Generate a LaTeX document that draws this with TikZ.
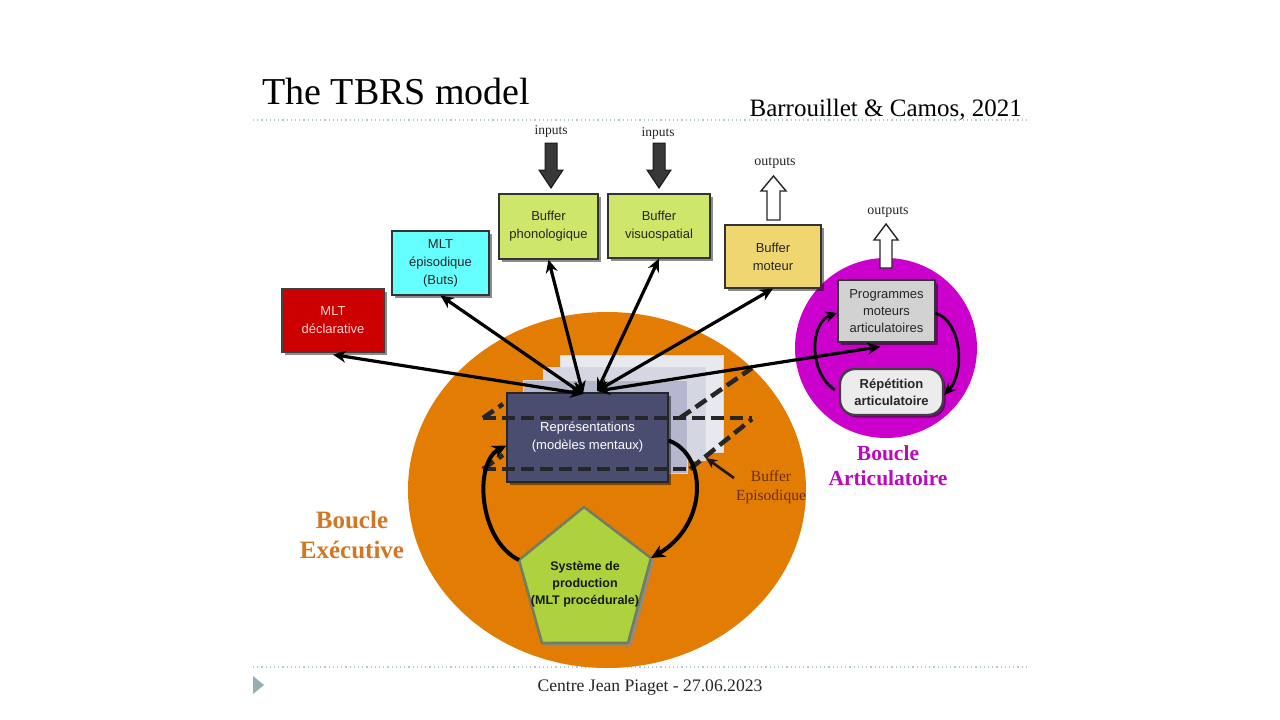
\documentclass[tikz,border=0pt]{standalone}
\usepackage{fontspec}
\setmainfont{Liberation Serif}
\setsansfont{Liberation Sans}
\usetikzlibrary{arrows.meta,calc,shadows}
\definecolor{orng}{RGB}{226,124,2}
\definecolor{magn}{RGB}{204,0,204}
\definecolor{redbox}{RGB}{204,0,0}
\definecolor{cyanbox}{RGB}{102,255,255}
\definecolor{limebox}{RGB}{206,230,105}
\definecolor{yelbox}{RGB}{240,214,112}
\definecolor{graybox}{RGB}{210,210,210}
\definecolor{repbox}{RGB}{236,236,236}
\definecolor{slate}{RGB}{74,77,112}
\definecolor{cardA}{RGB}{232,233,238}
\definecolor{cardB}{RGB}{212,214,226}
\definecolor{cardC}{RGB}{180,183,205}
\definecolor{pent}{RGB}{174,210,62}
\definecolor{pentline}{RGB}{115,125,95}
\definecolor{dotc}{RGB}{170,205,205}
\definecolor{exectxt}{RGB}{208,120,38}
\definecolor{arttxt}{RGB}{186,10,186}
\definecolor{epitxt}{RGB}{105,48,22}
\definecolor{marker}{RGB}{150,172,182}
\tikzset{
  bx/.style={rectangle, draw=black!80, line width=1.2pt, inner sep=0pt, align=center,
    font=\sffamily\fontsize{13}{18}\selectfont, text=black!85,
    drop shadow={shadow xshift=2.5pt, shadow yshift=-2.5pt, fill=black, opacity=0.45}},
  link/.style={line width=3.2pt, black, {Stealth[length=13pt,width=12pt]}-{Stealth[length=13pt,width=12pt]}},
  loopex/.style={line width=4pt, black, -{Stealth[length=14pt,width=13pt]}},
  loopart/.style={line width=2.8pt, black, -{Stealth[length=12pt,width=11pt]}},
  dsh/.style={line width=4.5pt, black!85, dash pattern=on 13pt off 6pt},
  inarrow/.style={fill=black!78, draw=black!90, line width=1pt},
  outarrow/.style={fill=white, draw=black!85, line width=1.4pt},
  smalllbl/.style={font=\fontsize{13.5}{15}\selectfont, text=black!85},
  card/.style={draw=black!15, line width=0.6pt}
}
\begin{document}
\begin{tikzpicture}[x=1pt,y=-1pt]
\useasboundingbox[fill=white] (0,0) rectangle (1280,720);

% header / footer
\node[anchor=base west, font=\fontsize{38}{40}\selectfont, inner sep=0pt] (title) at (262,104) {The TBRS model};
\node[anchor=base east, font=\fontsize{25}{27}\selectfont, inner sep=0pt] (ref) at (1022,116) {Barrouillet \& Camos, 2021};
\draw[dotc, line width=1.2pt, dash pattern=on 1.2pt off 3pt] (253,120) -- (1030,120);
\draw[dotc, line width=1.2pt, dash pattern=on 1.2pt off 3pt] (253,667) -- (1030,667);
\node[anchor=base, font=\fontsize{17.6}{19}\selectfont, inner sep=0pt, text=black!85] (foot) at (650,691) {Centre Jean Piaget - 27.06.2023};
\fill[marker] (253,676) -- (264,685) -- (253,694) -- cycle;

% circles
\fill[orng] (607,490) ellipse [x radius=199, y radius=178];
\fill[magn] (886,348) ellipse [x radius=91, y radius=90];

% stacked cards
\draw[card, fill=cardA] (560,355) rectangle (723,452);
\draw[card, fill=cardB] (543,367) rectangle (705,460);
\draw[card, fill=cardC] (523,380) rectangle (687,473);
\node[bx, fill=slate, text=white, draw=black!85, minimum width=161pt, minimum height=89pt] (repr) at (587.5,437.5) {Représentations\\(modèles mentaux)};

% Buffer episodique dashed box
\draw[dsh] (483,418) -- (752,418);
\draw[dsh] (483,469) -- (690,469);
\draw[dsh] (680,418) -- (752,368);
\draw[dsh] (690,469) -- (752,419);
\draw[dsh] (483,418) -- (503,404);
\draw[dsh] (483,469) -- (503,455);
\node[font=\fontsize{15.5}{19}\selectfont, text=epitxt, align=center, inner sep=0pt] (epil) at (771,487) {Buffer\\Episodique};
\coordinate (epitip) at (706,458);
\draw[line width=2.6pt, black!90, -{Stealth[length=11pt,width=10pt]}] (734,478) -- (epitip);

% boxes
\node[bx, fill=redbox, text={rgb,255:red,255;green,212;blue,212}, draw=black!75, minimum width=102pt, minimum height=63pt] (decl) at (333,320.5) {MLT\\déclarative};
\node[bx, fill=cyanbox, minimum width=97pt, minimum height=64pt] (epis) at (440.5,263) {MLT\\épisodique\\(Buts)};
\node[bx, fill=limebox, minimum width=99pt, minimum height=65pt] (phono) at (548.5,226.5) {Buffer\\phonologique};
\node[bx, fill=limebox, minimum width=102pt, minimum height=64pt] (visuo) at (659,226) {Buffer\\visuospatial};
\node[bx, fill=yelbox, minimum width=96pt, minimum height=63pt] (moteur) at (773,256.5) {Buffer\\moteur};
\node[bx, fill=graybox, minimum width=97pt, minimum height=62pt, font=\sffamily\fontsize{13}{17}\selectfont] (prog) at (886.5,311) {Programmes\\moteurs\\articulatoires};
\node[bx, fill=repbox, rounded corners=15pt, line width=2.4pt, draw=black!75, minimum width=103pt, minimum height=46pt, font=\sffamily\bfseries\fontsize{13}{17}\selectfont] (rep) at (891.5,392) {Répétition\\articulatoire};

% pentagon
\coordinate (pT) at (584,507);
\coordinate (pR) at (651,558);
\coordinate (pBR) at (628,643);
\coordinate (pBL) at (542,643);
\coordinate (pL) at (519,560);
\fill[black!45] ($(pT)+(3,3)$) -- ($(pR)+(3,3)$) -- ($(pBR)+(3,3)$) -- ($(pBL)+(3,3)$) -- ($(pL)+(3,3)$) -- cycle;
\draw[fill=pent, draw=pentline, line width=2.6pt, line join=round] (pT) -- (pR) -- (pBR) -- (pBL) -- (pL) -- cycle;
\node[font=\sffamily\bfseries\fontsize{12.5}{17}\selectfont, align=center, text=black!90, inner sep=0pt] (sys) at (585,584) {Système de\\production\\(MLT procédurale)};

% loops
\draw[loopex] (pL) .. controls (478,540) and (474,462) .. ([yshift=-8pt]repr.west);
\draw[loopex] ([yshift=-3pt]repr.east) .. controls (708,455) and (708,525) .. (pR);
\draw[loopart] ([xshift=-4pt, yshift=2pt]rep.west) .. controls (808,372) and (810,322) .. ([yshift=-2pt]prog.west);
\draw[loopart] ([yshift=-2pt]prog.east) .. controls (962,322) and (965,372) .. ([yshift=-3pt]rep.east);

% connectors to representations
\coordinate (rL) at (583,394);
\coordinate (rR) at (597,391);
\draw[link] (rL) -- ([yshift=-2pt]decl.south);
\draw[link] (rL) -- (epis.south);
\draw[link] (rL) -- (phono.south);
\draw[link] (rR) -- (visuo.south);
\draw[link] (rR) -- (moteur.south);
\draw[link] (rR) -- ([xshift=-6pt, yshift=-4pt]prog.south);

% input / output block arrows
\node[smalllbl] (in1) at (551,131) {inputs};
\node[smalllbl] (in2) at (658,133) {inputs};
\node[smalllbl, font=\fontsize{14}{15}\selectfont] (out1) at (775,163) {outputs};
\node[smalllbl, font=\fontsize{14}{15}\selectfont] (out2) at (888,212) {outputs};
\draw[inarrow] (545,143) -- (557,143) -- (557,170) -- (563,170) -- (551,188) -- (539,170) -- (545,170) -- cycle;
\draw[inarrow] (653,143) -- (665,143) -- (665,170) -- (671,170) -- (659,188) -- (647,170) -- (653,170) -- cycle;
\draw[outarrow] (767,220) -- (780,220) -- (780,191) -- (786,191) -- (773.5,176) -- (761,191) -- (767,191) -- cycle;
\draw[outarrow] (880,268) -- (892,268) -- (892,240) -- (898,240) -- (886,224) -- (874,240) -- (880,240) -- cycle;

% loop labels
\node[font=\bfseries\fontsize{25}{30}\selectfont, text=exectxt, align=center, inner sep=0pt] (bexe) at (352,535) {Boucle\\Exécutive};
\node[font=\bfseries\fontsize{21.5}{25}\selectfont, text=arttxt, align=center, inner sep=0pt] (bart) at (888,466) {Boucle\\Articulatoire};
\end{tikzpicture}
\end{document}
